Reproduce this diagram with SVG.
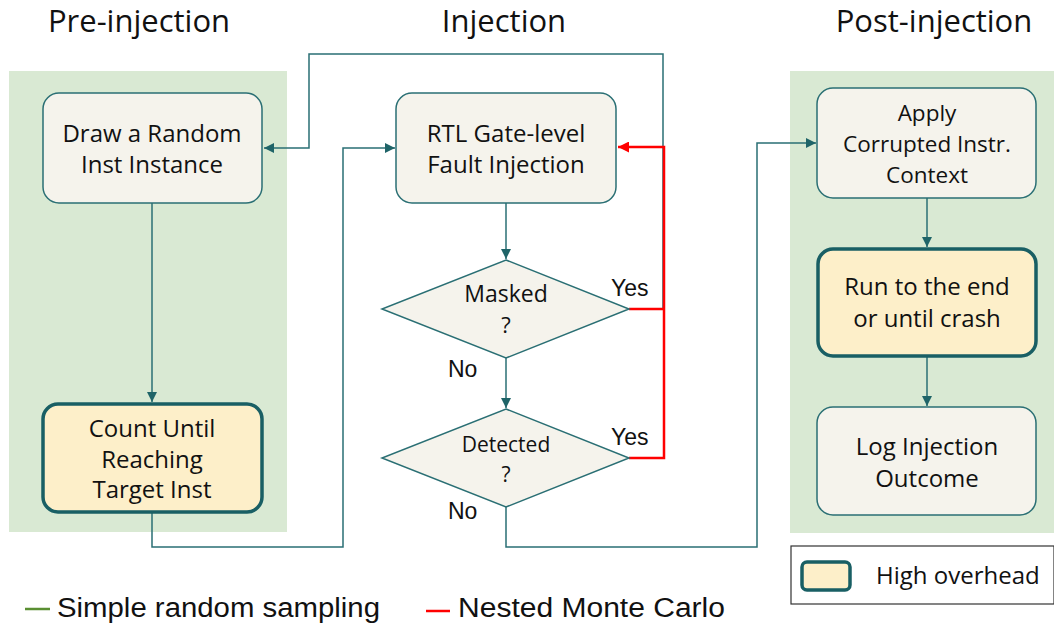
<svg xmlns="http://www.w3.org/2000/svg" width="1054" height="631" viewBox="0 0 1054 631">
<style>
.panel{fill:#d9e9d3;stroke:none}
.box{fill:#f5f3ec;stroke:#2a6f74;stroke-width:1.5}
.hi{fill:#fdefc9;stroke:#195f64;stroke-width:3.5}
.t{font-family:"Open Sans","Noto Sans",sans-serif;font-size:24px;fill:#111;text-anchor:middle}
.title{font-family:"Open Sans","Noto Sans",sans-serif;font-size:31px;fill:#111;text-anchor:middle}
.yn{font-family:"Liberation Sans",Arial,sans-serif;font-size:23px;fill:#111}
.leg{font-family:"Liberation Sans",Arial,sans-serif;font-size:27px;fill:#111}
.c{fill:none;stroke:#2a6f74;stroke-width:1.5}
.r{fill:none;stroke:#ff0000;stroke-width:2.5}
</style>
<defs>
<marker id="at" viewBox="0 0 10 10" refX="10" refY="5" markerWidth="10" markerHeight="10" markerUnits="userSpaceOnUse" orient="auto">
<path d="M0,0 L10,5 L0,10 z" fill="#1f6468"/>
</marker>
<marker id="ar" viewBox="0 0 10 10" refX="10" refY="5" markerWidth="11" markerHeight="11" markerUnits="userSpaceOnUse" orient="auto">
<path d="M0,0 L10,5 L0,10 z" fill="#ff0000"/>
</marker>
</defs>
<rect width="1054" height="631" fill="#ffffff"/>
<g id="panels">
<rect class="panel" x="9" y="71" width="278" height="461"/>
<rect class="panel" x="790" y="71" width="264" height="462"/>
</g>
<g id="titles">
<text class="title" x="139" y="32">Pre-injection</text>
<text class="title" x="504" y="32">Injection</text>
<text class="title" x="934" y="32">Post-injection</text>
</g>
<g id="connectors">
<path class="c" d="M152,203 V402" marker-end="url(#at)"/>
<path class="c" d="M152,513 V547 H343 V148 H395" marker-end="url(#at)"/>
<path class="c" d="M663,309 V54 H309 V148 H264" marker-end="url(#at)"/>
<path class="c" d="M506,203 V259" marker-end="url(#at)"/>
<path class="c" d="M506,358 V408" marker-end="url(#at)"/>
<path class="c" d="M506,507 V547 H757 V143 H816" marker-end="url(#at)"/>
<path class="c" d="M927,198 V247" marker-end="url(#at)"/>
<path class="c" d="M927,357 V406" marker-end="url(#at)"/>
<path class="r" d="M629,309 H664"/>
<path class="r" d="M629,458 H664 V147 H618" marker-end="url(#ar)"/>
</g>
<g id="n-draw">
<rect class="box" x="43" y="93" width="219" height="110" rx="16"/>
<text class="t" x="152" y="142">Draw a Random</text>
<text class="t" x="152" y="173">Inst Instance</text>
</g>
<g id="n-count">
<rect class="hi" x="43" y="404" width="219" height="108" rx="15"/>
<text class="t" x="152" y="437">Count Until</text>
<text class="t" x="152" y="468">Reaching</text>
<text class="t" x="152" y="498">Target Inst</text>
</g>
<g id="n-rtl">
<rect class="box" x="396" y="93" width="220" height="110" rx="16"/>
<text class="t" x="506" y="142">RTL Gate-level</text>
<text class="t" x="506" y="173">Fault Injection</text>
</g>
<g id="n-masked">
<polygon class="box" points="506,260 629,309 506,358 382,309"/>
<text class="t" x="506" y="302" style="font-size:23px">Masked</text>
<text class="t" x="506" y="333" style="font-size:22px">?</text>
</g>
<g id="n-detected">
<polygon class="box" points="506,409 629,458 506,507 382,458"/>
<text class="t" x="506" y="452" style="font-size:21px">Detected</text>
<text class="t" x="506" y="482" style="font-size:21px">?</text>
</g>
<g id="labels">
<text class="yn" x="611" y="296">Yes</text>
<text class="yn" x="611" y="445">Yes</text>
<text class="yn" x="448" y="377">No</text>
<text class="yn" x="448" y="519">No</text>
</g>
<g id="n-apply">
<rect class="box" x="817" y="88" width="219" height="110" rx="16"/>
<text class="t" x="927" y="121" style="font-size:22.5px">Apply</text>
<text class="t" x="927" y="152" style="font-size:22.5px">Corrupted Instr.</text>
<text class="t" x="927" y="183" style="font-size:22.5px">Context</text>
</g>
<g id="n-run">
<rect class="hi" x="818" y="249" width="218" height="107" rx="15"/>
<text class="t" x="927" y="295">Run to the end</text>
<text class="t" x="927" y="327">or until crash</text>
</g>
<g id="n-log">
<rect class="box" x="817" y="407" width="219" height="108" rx="16"/>
<text class="t" x="927" y="455">Log Injection</text>
<text class="t" x="927" y="487">Outcome</text>
</g>
<g id="legend">
<rect x="791" y="546" width="263" height="58" fill="#ffffff" stroke="#333333" stroke-width="1.2"/>
<rect x="802" y="562" width="48" height="28" rx="5" fill="#fdefc9" stroke="#195f64" stroke-width="3.5"/>
<text x="876" y="584" style="font-family:'Open Sans','Noto Sans',sans-serif;font-size:24px;fill:#111">High overhead</text>
<line x1="25" y1="609" x2="50" y2="609" stroke="#5a8f32" stroke-width="2.5"/>
<text class="leg" x="57" y="617" textLength="323" lengthAdjust="spacingAndGlyphs">Simple random sampling</text>
<line x1="426" y1="611" x2="450" y2="611" stroke="#ff0000" stroke-width="2.5"/>
<text class="leg" x="458" y="617" textLength="267" lengthAdjust="spacingAndGlyphs">Nested Monte Carlo</text>
</g>
</svg>
